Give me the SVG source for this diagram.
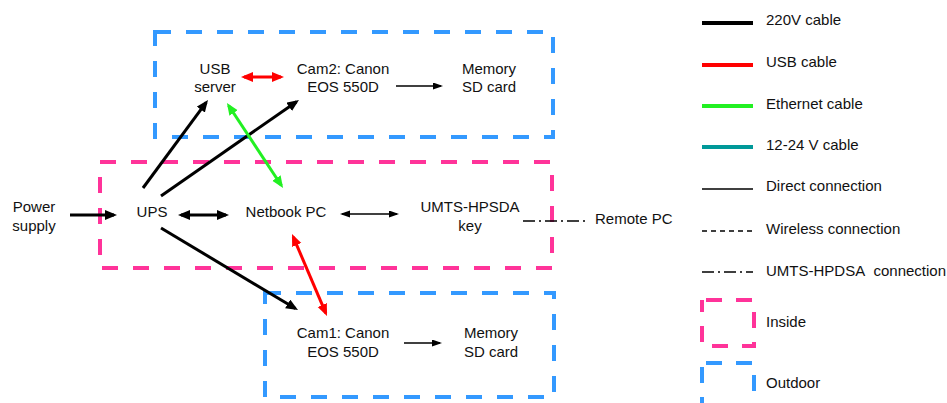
<svg xmlns="http://www.w3.org/2000/svg" width="947" height="403" viewBox="0 0 947 403">
  <style>
    text { font-family: "Liberation Sans", Arial, sans-serif; font-size: 15px; fill: #111; }
    .zone { fill: none; stroke-width: 4; stroke-dasharray: 16 15; }
    .inside { stroke: #ff3399; }
    .outdoor { stroke: #3399ff; }
    .p220 { stroke: #000; stroke-width: 3; fill: none; }
    .usb { stroke: #ff0000; stroke-width: 3; fill: none; }
    .eth { stroke: #22f022; stroke-width: 3; fill: none; }
    .v12 { stroke: #009999; stroke-width: 4; fill: none; }
    .direct { stroke: #000; stroke-width: 1.4; fill: none; }
    .wireless { stroke: #000; stroke-width: 1.4; fill: none; stroke-dasharray: 5 4; }
    .umts { stroke: #000; stroke-width: 1.4; fill: none; stroke-dasharray: 12 4 2 4; }
  </style>
  <defs>
    <marker id="ah-black" markerUnits="userSpaceOnUse" markerWidth="14" markerHeight="12" refX="9" refY="5" orient="auto-start-reverse">
      <path d="M0,0 L12,5 L0,10 z" fill="#000"/>
    </marker>
    <marker id="ah-red" markerUnits="userSpaceOnUse" markerWidth="14" markerHeight="12" refX="9" refY="5" orient="auto-start-reverse">
      <path d="M0,0 L12,5 L0,10 z" fill="#ff0000"/>
    </marker>
    <marker id="ah-green" markerUnits="userSpaceOnUse" markerWidth="14" markerHeight="12" refX="9" refY="5" orient="auto-start-reverse">
      <path d="M0,0 L12,5 L0,10 z" fill="#22f022"/>
    </marker>
    <marker id="ah-thin" markerUnits="userSpaceOnUse" markerWidth="12" markerHeight="8" refX="8" refY="3.5" orient="auto-start-reverse">
      <path d="M0,0 L10,3.5 L0,7 z" fill="#000"/>
    </marker>
  </defs>

  <!-- zones -->
  <g id="zones">
    <rect class="zone outdoor" x="155" y="32" width="398" height="105"/>
    <rect class="zone inside" x="100" y="162" width="452" height="106"/>
    <rect class="zone outdoor" x="265" y="293" width="289" height="104"/>
  </g>

  <!-- connectors -->
  <g id="connectors">
    <line class="p220" x1="70" y1="215" x2="114" y2="215" marker-end="url(#ah-black)"/>
    <line class="p220" x1="181" y1="215" x2="226" y2="215" marker-start="url(#ah-black)" marker-end="url(#ah-black)"/>
    <line class="p220" x1="143" y1="188" x2="206.2" y2="102.4" marker-end="url(#ah-black)"/>
    <line class="p220" x1="161" y1="196" x2="296.5" y2="101.7" marker-end="url(#ah-black)"/>
    <line class="p220" x1="161" y1="228" x2="295.4" y2="308.5" marker-end="url(#ah-black)"/>
    <line class="usb" x1="244" y1="77" x2="281" y2="77" marker-start="url(#ah-red)" marker-end="url(#ah-red)"/>
    <line class="usb" x1="293.2" y1="236.8" x2="325.8" y2="313.2" marker-start="url(#ah-red)" marker-end="url(#ah-red)"/>
    <line class="eth" x1="228.6" y1="105.5" x2="281.4" y2="185.5" marker-start="url(#ah-green)" marker-end="url(#ah-green)"/>
    <line class="direct" x1="396" y1="86" x2="441" y2="86" marker-end="url(#ah-thin)"/>
    <line class="direct" x1="342" y1="214" x2="397" y2="214" marker-start="url(#ah-thin)" marker-end="url(#ah-thin)"/>
    <line class="direct" x1="404" y1="343" x2="440" y2="343" marker-end="url(#ah-thin)"/>
    <line class="umts" x1="523" y1="221" x2="586" y2="221"/>
  </g>

  <!-- nodes -->
  <g id="power-supply"><text x="34" text-anchor="middle"><tspan x="34" y="212">Power</tspan><tspan x="34" y="231">supply</tspan></text></g>
  <g id="ups"><text x="152" y="217" text-anchor="middle">UPS</text></g>
  <g id="netbook-pc"><text x="286" y="217" text-anchor="middle">Netbook PC</text></g>
  <g id="umts-key"><text text-anchor="middle"><tspan x="470" y="212">UMTS-HPSDA</tspan><tspan x="470" y="231">key</tspan></text></g>
  <g id="remote-pc"><text x="595" y="224">Remote PC</text></g>
  <g id="usb-server"><text text-anchor="middle"><tspan x="215" y="74">USB</tspan><tspan x="215" y="92">server</tspan></text></g>
  <g id="cam2"><text text-anchor="middle"><tspan x="343" y="74">Cam2: Canon</tspan><tspan x="343" y="92">EOS 550D</tspan></text></g>
  <g id="memory2"><text text-anchor="middle"><tspan x="489" y="74">Memory</tspan><tspan x="489" y="92">SD card</tspan></text></g>
  <g id="cam1"><text text-anchor="middle"><tspan x="343" y="338">Cam1: Canon</tspan><tspan x="343" y="357">EOS 550D</tspan></text></g>
  <g id="memory1"><text text-anchor="middle"><tspan x="491" y="338">Memory</tspan><tspan x="491" y="357">SD card</tspan></text></g>

  <!-- legend -->
  <g id="legend">
    <line class="p220" x1="702" y1="23" x2="753" y2="23" style="stroke-width:4"/>
    <text x="766" y="25">220V cable</text>
    <line class="usb" x1="702" y1="65" x2="753" y2="65" style="stroke-width:4"/>
    <text x="766" y="67">USB cable</text>
    <line class="eth" x1="702" y1="106" x2="753" y2="106" style="stroke-width:4"/>
    <text x="766" y="109">Ethernet cable</text>
    <line class="v12" x1="702" y1="147" x2="753" y2="147"/>
    <text x="766" y="150">12-24 V cable</text>
    <line class="direct" x1="702" y1="189" x2="753" y2="189"/>
    <text x="766" y="191">Direct connection</text>
    <line class="wireless" x1="702" y1="231" x2="753" y2="231"/>
    <text x="766" y="234">Wireless connection</text>
    <line class="umts" x1="702" y1="272" x2="753" y2="272"/>
    <text x="766" y="276">UMTS-HPDSA&#160; connection</text>
    <rect class="zone inside" x="702" y="300" width="52" height="46" style="stroke-dasharray:16 14;stroke-dashoffset:-4"/>
    <text x="766" y="327">Inside</text>
    <rect class="zone outdoor" x="702" y="363" width="52" height="50" style="stroke-dasharray:16 14;stroke-dashoffset:-4"/>
    <text x="766" y="388">Outdoor</text>
  </g>
</svg>
